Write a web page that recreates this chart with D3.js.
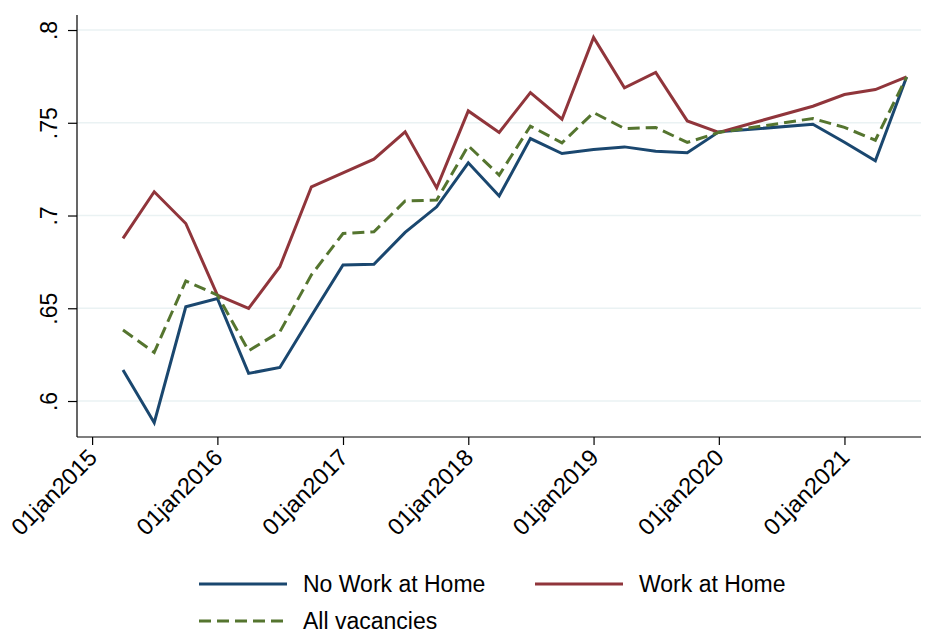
<!DOCTYPE html>
<html>
<head>
<meta charset="utf-8">
<script src="https://cdn.jsdelivr.net/npm/d3@7"></script>
<style>
  body { margin: 0; background: #fff; }
  svg text { font-family: "Liberation Sans", Arial, sans-serif; fill: #000; }
  .grid line { stroke: #eaf2f3; stroke-width: 1.6; }
  .axis path, .axis line { stroke: #000; stroke-width: 1.2; }
  .line { fill: none; stroke-width: 3; stroke-linejoin: miter; }
</style>
</head>
<body>
<svg id="chart" width="941" height="633"></svg>
<script>
// quarterly observations (2020Q2, 2020Q3 not in the data)
var dates = ["2015-04-01","2015-07-01","2015-10-01",
  "2016-01-01","2016-04-01","2016-07-01","2016-10-01",
  "2017-01-01","2017-04-01","2017-07-01","2017-10-01",
  "2018-01-01","2018-04-01","2018-07-01","2018-10-01",
  "2019-01-01","2019-04-01","2019-07-01","2019-10-01",
  "2020-01-01","2020-10-01",
  "2021-01-01","2021-04-01","2021-07-01"];

var noWorkAtHome = [0.6167, 0.5883, 0.6508,
  0.6553, 0.6149, 0.6181, 0.6460,
  0.6733, 0.6737, 0.6909, 0.7047,
  0.7284, 0.7105, 0.7415, 0.7334,
  0.7356, 0.7370, 0.7347, 0.7338,
  0.7451, 0.7492,
  0.7395, 0.7295, 0.7747];

var workAtHome = [0.6877, 0.7128, 0.6957,
  0.6571, 0.6499, 0.6724, 0.7155,
  0.7230, 0.7304, 0.7451, 0.7149,
  0.7564, 0.7448, 0.7663, 0.7519,
  0.7960, 0.7688, 0.7771, 0.7510,
  0.7448, 0.7589,
  0.7652, 0.7679, 0.7747];

var allVacancies = [0.6383, 0.6262, 0.6647,
  0.6571, 0.6271, 0.6373, 0.6680,
  0.6903, 0.6912, 0.7078, 0.7083,
  0.7376, 0.7218, 0.7482, 0.7392,
  0.7555, 0.7469, 0.7475, 0.7394,
  0.7448, 0.7523,
  0.7475, 0.7406, 0.7747];

var yTicks = [0.6, 0.65, 0.7, 0.75, 0.8];
var xTicks = ["2015-01-01","2016-01-01","2017-01-01","2018-01-01","2019-01-01","2020-01-01","2021-01-01"];

var seriesNames = ["No Work at Home", "Work at Home", "All vacancies"];

var parseDate = d3.timeParse("%Y-%m-%d");
var formatTick = d3.timeFormat("%d%b%Y");

var plotLeft = 77, plotRight = 921, plotTop = 15, plotBottom = 437;

var svg = d3.select("#chart");

var x = d3.scaleTime()
  .domain([parseDate("2014-11-18"), parseDate("2021-08-12")])
  .range([plotLeft, plotRight]);

var y = d3.scaleLinear()
  .domain([0.5806, 0.8081])
  .range([plotBottom, plotTop]);

// gridlines
svg.append("g")
  .attr("class", "grid")
  .selectAll("line")
  .data(yTicks)
  .enter()
  .append("line")
  .attr("x1", plotLeft)
  .attr("x2", plotRight)
  .attr("y1", function(d) { return y(d); })
  .attr("y2", function(d) { return y(d); });

// y axis
var yaxis = d3.axisLeft(y)
  .tickValues(yTicks)
  .tickSize(9)
  .tickSizeOuter(0)
  .tickFormat(function(d) { return d3.format("")(d).replace(/^0/, ""); });

var gy = svg.append("g")
  .attr("class", "axis axis--y")
  .attr("transform", "translate(" + plotLeft + ",0)")
  .call(yaxis);

gy.select(".domain").attr("d", "M0," + plotTop + "V" + plotBottom);
gy.selectAll("text")
  .attr("x", null).attr("dy", null)
  .attr("transform", "translate(-20,0) rotate(-90)")
  .style("text-anchor", "middle")
  .style("font-size", "23px");

// x axis
var xaxis = d3.axisBottom(x)
  .tickValues(xTicks.map(parseDate))
  .tickSize(8)
  .tickSizeOuter(0)
  .tickFormat(function(d) { return formatTick(d).toLowerCase(); });

var gx = svg.append("g")
  .attr("class", "axis axis--x")
  .attr("transform", "translate(0," + plotBottom + ")")
  .call(xaxis);

gx.select(".domain").attr("d", "M" + plotLeft + ",0H" + plotRight);
gx.selectAll("text")
  .attr("y", null).attr("dy", null)
  .attr("transform", "translate(6,22) rotate(-45)")
  .style("text-anchor", "end")
  .style("font-size", "23.5px");

// lines
var colors = ["#1a476f", "#90353b", "#55752f"];
var dashes = [null, null, "12,6"];
var series = [noWorkAtHome, workAtHome, allVacancies];

var line = d3.line()
  .x(function(d, i) { return x(parseDate(dates[i])); })
  .y(function(d) { return y(d); });

series.forEach(function(s, k) {
  svg.append("path")
    .datum(s)
    .attr("class", "line")
    .attr("stroke", colors[k])
    .attr("stroke-dasharray", dashes[k])
    .attr("d", line);
});

// legend
var legendPos = [[199, 584], [535, 584], [199, 621]];
var legend = svg.append("g").attr("class", "legend");

seriesNames.forEach(function(name, k) {
  var p = legendPos[k];
  legend.append("line")
    .attr("x1", p[0]).attr("x2", p[0] + 88)
    .attr("y1", p[1]).attr("y2", p[1])
    .attr("stroke", colors[k])
    .attr("stroke-width", 3)
    .attr("stroke-dasharray", dashes[k]);
  legend.append("text")
    .attr("x", p[0] + 104)
    .attr("y", p[1])
    .attr("dy", "0.36em")
    .style("font-size", "23px")
    .text(name);
});
</script>
</body>
</html>
